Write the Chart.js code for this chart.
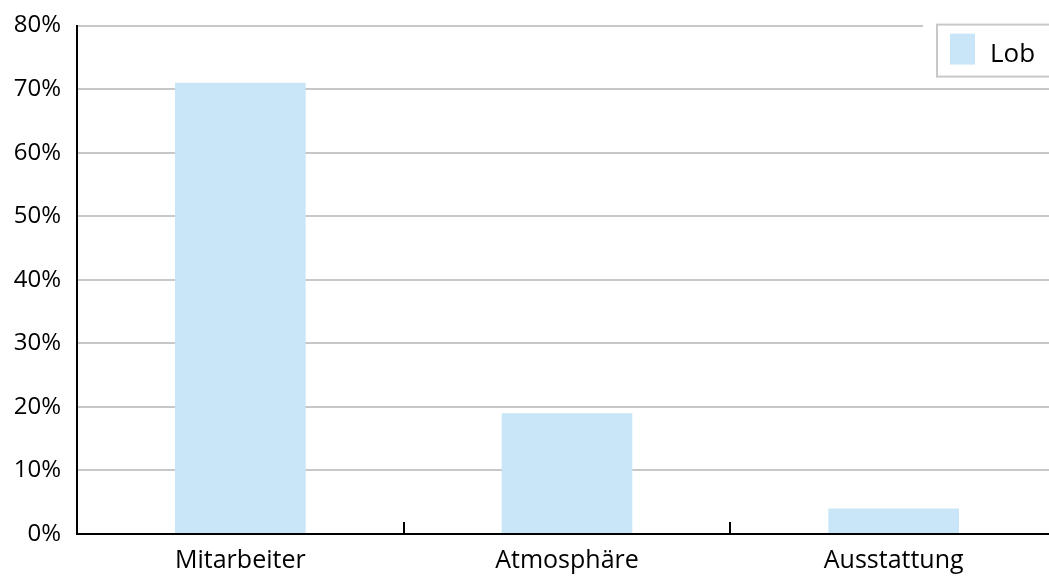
<!DOCTYPE html>
<html>
<head>
<meta charset="utf-8">
<script src="https://cdn.jsdelivr.net/npm/chart.js@4"></script>
<style>
  html, body { margin: 0; padding: 0; background: #fff; overflow: hidden; }
  #wrap { width: 1049px; height: 577px; overflow: hidden; }
</style>
</head>
<body>
<!-- plot runs a little past the right edge, as in the original -->
<div id="wrap"><canvas id="chart" width="1057" height="577"></canvas></div>
<script>
// data
const categories = ['Mitarbeiter', 'Atmosphäre', 'Ausstattung'];
const lobValues = [71, 19, 4];
const seriesLabel = 'Lob';
const yTicks = [0, 10, 20, 30, 40, 50, 60, 70, 80];

const BAR_COLOR = '#c8e6f7';
const GRID_COLOR = '#c8c8c8';
const FONT = "'Open Sans', sans-serif";
const VISIBLE_WIDTH = 1049;

// little upward ticks between categories on the x axis
const categoryTicks = {
  id: 'categoryTicks',
  afterDatasetsDraw(chart) {
    const x = chart.scales.x;
    const bottom = chart.chartArea.bottom;
    const ctx = chart.ctx;
    ctx.save();
    ctx.strokeStyle = '#000';
    ctx.lineWidth = 2;
    for (let i = 1; i < categories.length; i++) {
      const px = Math.round((x.getPixelForValue(i - 1) + x.getPixelForValue(i)) / 2);
      ctx.beginPath();
      ctx.moveTo(px, bottom);
      ctx.lineTo(px, bottom - 12);
      ctx.stroke();
    }
    ctx.restore();
  },
};

// boxed legend sitting over the top right of the plot
const boxLegend = {
  id: 'boxLegend',
  afterDraw(chart) {
    const ctx = chart.ctx;
    const left = VISIBLE_WIDTH - 112;
    const top = chart.chartArea.top - 1;
    ctx.save();
    ctx.fillStyle = '#fff';
    ctx.fillRect(left - 14, top - 4, 140, 58);
    ctx.strokeStyle = GRID_COLOR;
    ctx.lineWidth = 2;
    ctx.strokeRect(left, top, 130, 52);
    ctx.fillStyle = chart.data.datasets[0].backgroundColor;
    ctx.fillRect(left + 13, top + 9, 25, 31);
    ctx.fillStyle = '#000';
    ctx.font = `26px ${FONT}`;
    ctx.textBaseline = 'middle';
    ctx.fillText(chart.data.datasets[0].label, left + 53, top + 30);
    ctx.restore();
  },
};

new Chart(document.getElementById('chart'), {
  type: 'bar',
  data: {
    labels: categories,
    datasets: [{
      label: seriesLabel,
      data: lobValues,
      backgroundColor: BAR_COLOR,
      borderWidth: 0,
      categoryPercentage: 1,
      barPercentage: 0.4,
    }],
  },
  options: {
    responsive: false,
    animation: false,
    layout: { padding: { top: 21, right: 0, left: 0, bottom: 0 } },
    plugins: {
      legend: { display: false },
      tooltip: { enabled: false },
    },
    scales: {
      x: {
        grid: { display: false },
        border: { display: true, color: '#000', width: 2 },
        ticks: { color: '#000', font: { family: FONT, size: 25 }, padding: 4 },
        afterFit: (s) => { s.height = 43; },
      },
      y: {
        min: 0,
        max: 80,
        afterBuildTicks: (s) => { s.ticks = yTicks.map((v) => ({ value: v })); },
        grid: { color: GRID_COLOR, lineWidth: 2, drawTicks: false },
        border: { display: true, color: '#000', width: 2 },
        ticks: {
          color: '#000',
          font: { family: FONT, size: 24, lineHeight: 0.8 },
          padding: 16,
          callback: (v) => v + '%',
        },
        afterFit: (s) => { s.width = 77; },
      },
    },
  },
  plugins: [categoryTicks, boxLegend],
});
</script>
</body>
</html>
